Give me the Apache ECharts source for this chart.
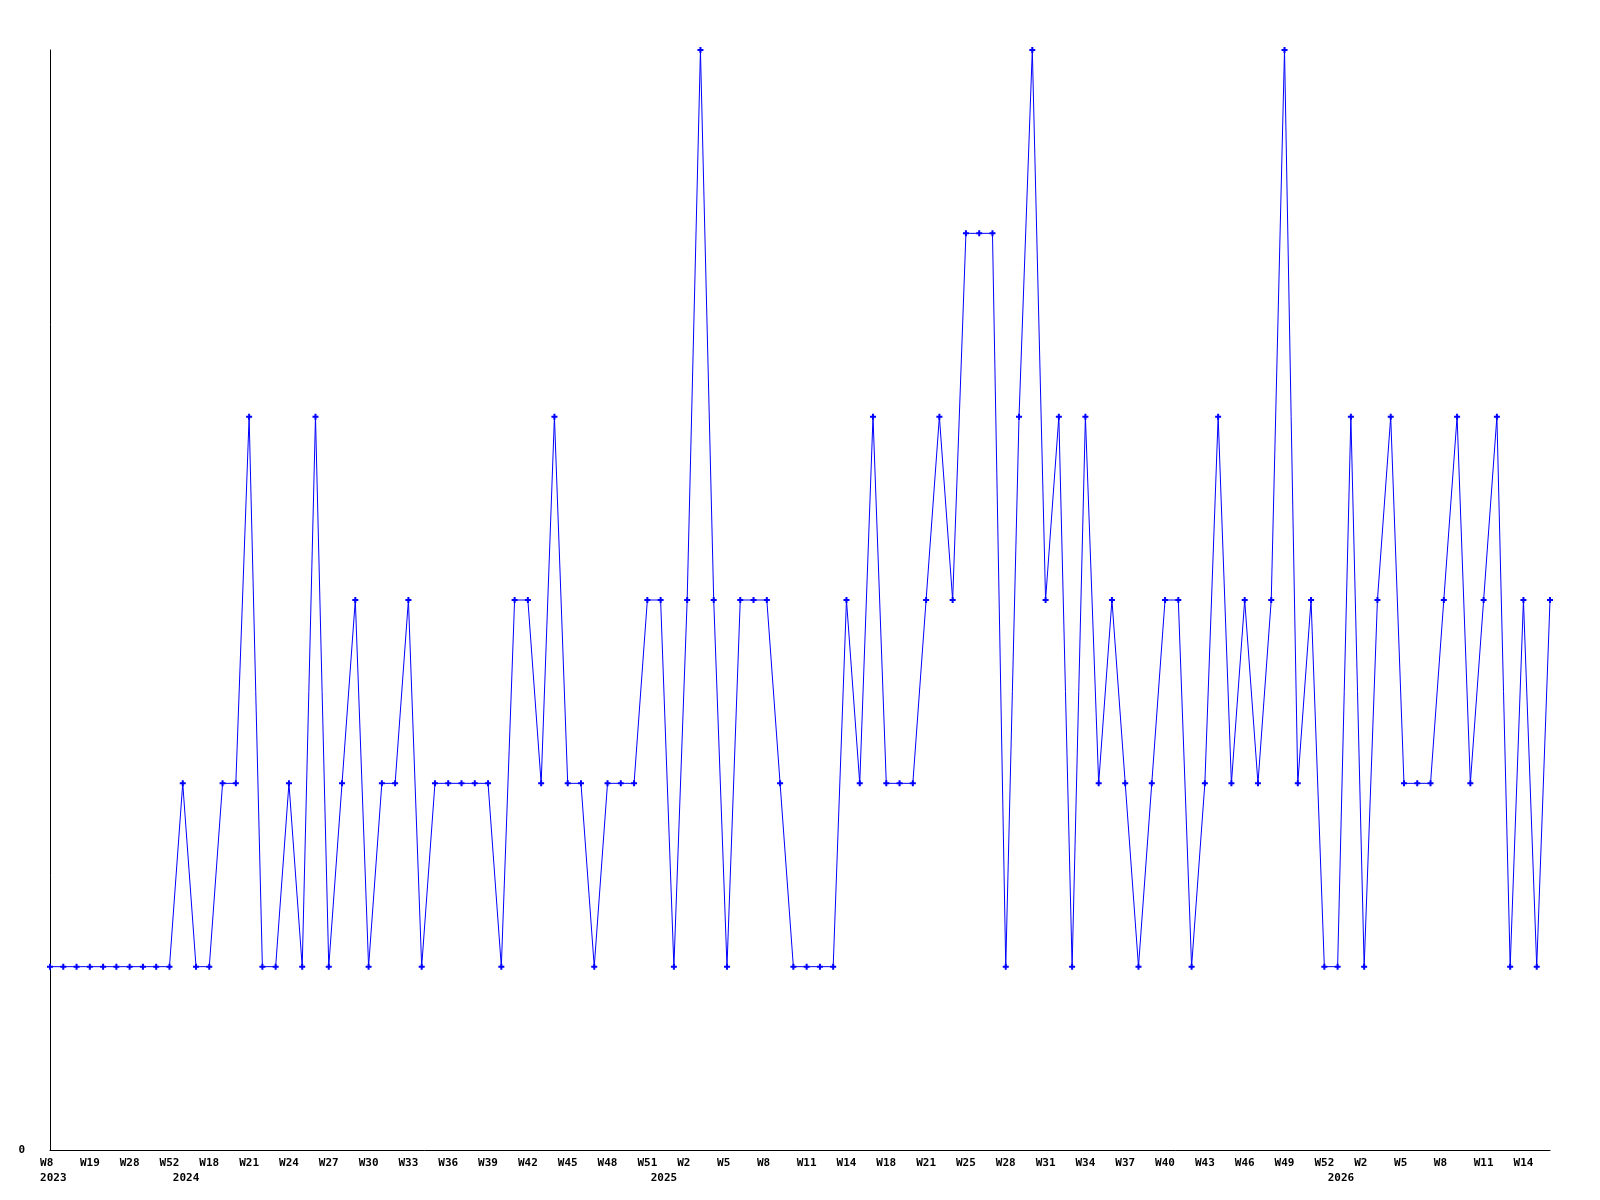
<!DOCTYPE html>
<html>
<head>
<meta charset="utf-8">
<style>
  html, body { margin: 0; padding: 0; background: #ffffff; }
  #chart { width: 1600px; height: 1200px; }
</style>
<script src="https://cdn.jsdelivr.net/npm/echarts@6/dist/echarts.min.js"></script>
</head>
<body>
<div id="chart"></div>
<script>
// Week label for each point (index order)
const weeks = [
  'W8','W11','W15','W19','W22','W25','W28','W38','W45','W52',
  'W0','W9','W18','W19','W20','W21','W22','W23','W24','W25',
  'W26','W27','W28','W29','W30','W31','W32','W33','W34','W35',
  'W36','W37','W38','W39','W40','W41','W42','W43','W44','W45',
  'W46','W47','W48','W49','W50','W51',
  'W0','W1','W2','W3','W4','W5','W6','W7','W8','W9',
  'W10','W11','W12','W13','W14','W15','W16','W18','W19','W20',
  'W21','W22','W23','W25','W26','W27','W28','W29','W30','W31',
  'W32','W33','W34','W35','W36','W37','W38','W39','W40','W41',
  'W42','W43','W44','W45','W46','W47','W48','W49','W50','W51','W52',
  'W0','W1','W2','W3','W4','W5','W6','W7','W8','W9',
  'W10','W11','W12','W13','W14','W15','W16'
];
// Index at which each year starts
const yearStartIdx = [0, 10, 46, 97];
const yearNames = ['2023', '2024', '2025', '2026'];

const values = [
  1,1,1,1,1,1,1,1,1,1,
  2,1,1,2,2,4,1,1,2,1,
  4,1,2,3,1,2,2,3,1,2,
  2,2,2,2,1,3,3,2,4,2,
  2,1,2,2,2,3,3,1,3,6,
  3,1,3,3,3,2,1,1,1,1,
  3,2,4,2,2,2,3,4,3,5,
  5,5,1,4,6,3,4,1,4,2,
  3,2,1,2,3,3,1,2,4,2,
  3,2,3,6,2,3,1,1,4,1,
  3,4,2,2,2,3,4,2,3,4,
  1,3,1,3
];

// Build categories
const years = [];
let yi = 0;
for (let i = 0; i < weeks.length; i++) {
  if (yi + 1 < yearStartIdx.length && i >= yearStartIdx[yi + 1]) yi++;
  years.push(yearNames[yi]);
}
const categories = weeks.map((w, i) => years[i] + '-' + w);

const labelFont = { fontFamily: 'DejaVu Sans Mono', fontWeight: 'bold', fontSize: 11, color: '#000000' };

const chart = echarts.init(document.getElementById('chart'), null, { renderer: 'canvas' });
chart.setOption({
  animation: false,
  backgroundColor: '#ffffff',
  grid: { left: 50, right: 50, top: 50, bottom: 50, containLabel: false },
  xAxis: {
    type: 'category',
    data: categories,
    boundaryGap: false,
    axisLine: { show: true, lineStyle: { color: '#000000', width: 1 } },
    axisTick: { show: false },
    splitLine: { show: false },
    axisLabel: Object.assign({}, labelFont, {
      interval: 0,
      margin: 6,
      lineHeight: 15,
      hideOverlap: false,
      formatter: function (value, idx) {
        let w = (idx % 3 === 0) ? weeks[idx] : '';
        if (w.length === 2) w = w + ' ';
        const ys = yearStartIdx.indexOf(idx);
        if (ys >= 0) return w + '\n ' + yearNames[ys];
        return w;
      }
    })
  },
  yAxis: {
    type: 'value',
    min: 0,
    max: 6,
    interval: 6,
    axisLine: { show: true, lineStyle: { color: '#000000', width: 1 } },
    axisTick: { show: false },
    splitLine: { show: false },
    axisLabel: Object.assign({}, labelFont, {
      margin: 25,
      formatter: function (v) { return v === 0 ? '0' : ''; }
    })
  },
  series: [{
    type: 'line',
    data: values,
    showAllSymbol: true,
    symbol: 'path://M1,0H2V1H3V2H2V3H1V2H0V1H1Z',
    symbolSize: 6,
    lineStyle: { color: '#0000ff', width: 1 },
    itemStyle: { color: '#0000ff' },
    emphasis: { disabled: true }
  }]
});
</script>
</body>
</html>
